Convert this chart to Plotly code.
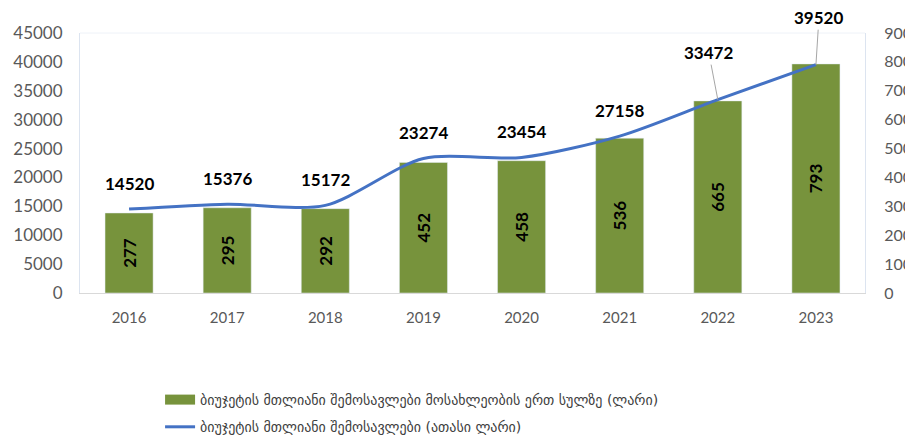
import plotly.graph_objects as go

years = ["2016", "2017", "2018", "2019", "2020", "2021", "2022", "2023"]
bar_values = [277, 295, 292, 452, 458, 536, 665, 793]
line_values = [14520, 15376, 15172, 23274, 23454, 27158, 33472, 39520]
bar_name = "ბიუჯეტის მთლიანი შემოსავლები მოსახლეობის ერთ სულზე (ლარი)"
line_name = "ბიუჯეტის მთლიანი შემოსავლები (ათასი ლარი)"

label_font = dict(family="Lato, DejaVu Sans", size=17, color="black")
ytick_font = dict(family="Lato, DejaVu Sans", size=17, color="#595959")
y2tick_font = dict(family="Lato, DejaVu Sans", size=16, color="#595959")
xtick_font = dict(family="Lato, DejaVu Sans", size=15, color="#595959")
bar_color = "#77933C"
line_color = "#4472C4"

fig = go.Figure()
fig.add_trace(go.Bar(
    x=years, y=bar_values, name=bar_name, yaxis="y", showlegend=False,
    marker=dict(color=bar_color), width=0.49,
    text=[str(v) for v in bar_values], textposition="inside",
    insidetextanchor="middle", textangle=-90,
    textfont=dict(family="Lato, DejaVu Sans", size=17, color="black", weight="bold"),
    hoverinfo="skip",
))
# legend entry for bars (wide rectangle like the reference)
fig.add_trace(go.Scatter(
    x=[None], y=[None], name=bar_name, yaxis="y", mode="lines",
    line=dict(color=bar_color, width=10), legendgroup="a",
))
fig.add_trace(go.Scatter(
    x=years, y=line_values, name=line_name, yaxis="y2", legendgroup="b",
    mode="lines", line=dict(color=line_color, width=3, shape="spline", smoothing=0.8),
))

offsets = [(0, -26), (0, -26), (0, -26), (0, -26), (0, -26), (0, -26), (-9, -47), (3, -47)]
for i, v in enumerate(line_values):
    ax, ay = offsets[i]
    arrow = i >= 6
    fig.add_annotation(
        x=i, y=v, xref="x", yref="y2", text="<b>%d</b>" % v,
        font=label_font, showarrow=True, arrowhead=0, arrowwidth=1,
        arrowcolor="#A6A6A6" if arrow else "rgba(0,0,0,0)",
        ax=ax, ay=ay, standoff=0, startstandoff=0,
    )

fig.update_layout(
    width=913, height=445,
    margin=dict(l=72, r=56, t=25, b=160, autoexpand=False),
    paper_bgcolor="white", plot_bgcolor="white",
    showlegend=True,
    legend=dict(
        x=0.102, y=-0.35, xanchor="left", yanchor="top",
        font=dict(family="DejaVu Sans", size=14, color="#404040"),
        traceorder="grouped", itemwidth=30, tracegroupgap=6,
    ),
    xaxis=dict(
        type="category", range=[-0.5, len(years) - 0.5], automargin=False,
        tickfont=xtick_font, showgrid=False, showline=True, linecolor="#D9D9D9",
        linewidth=1, mirror=False, ticks="", ticklabelstandoff=11,
    ),
    yaxis=dict(
        side="right", range=[0, 900], dtick=100, tickformat="d", showgrid=False,
        automargin=False,
        tickfont=y2tick_font, ticklabelstandoff=15, zeroline=False,
        showline=True, linecolor="#DCE4F0", linewidth=1,
    ),
    yaxis2=dict(
        side="left", overlaying="y", range=[0, 45000], dtick=5000, tickformat="d",
        showgrid=False, automargin=False,
        tickfont=ytick_font, ticklabelstandoff=13, zeroline=False,
        showline=True, linecolor="#DCE4F0", linewidth=1,
    ),
    shapes=[dict(type="line", xref="paper", yref="paper", x0=0, x1=1, y0=1, y1=1,
                 line=dict(color="#EEF2F8", width=1))],
)

fig.write_html("out.html")
